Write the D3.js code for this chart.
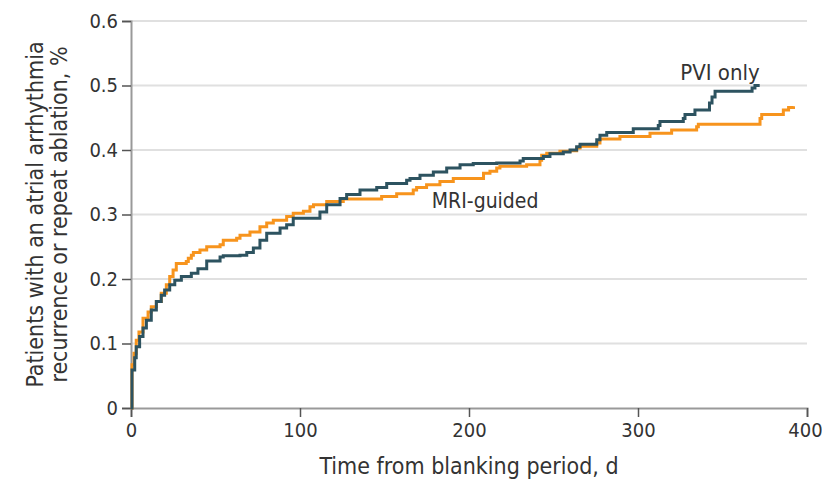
<!DOCTYPE html>
<html>
<head>
<meta charset="utf-8">
<script src="https://cdn.jsdelivr.net/npm/d3@7"></script>
<style>
  html, body { margin: 0; padding: 0; background: #fff; }
  svg { display: block; }
</style>
</head>
<body>
<div id="chart"></div>
<script>
// Kaplan-Meier style cumulative incidence (day, proportion)
const pviDays = [0, 0.6, 2.2, 3.1, 5.1, 7.1, 9.1, 12, 15, 17.9, 19.9, 22.9, 25.9, 29.8, 35.7, 39.6, 44.8,
  52.7, 54.6, 64.5, 68.5, 72.4, 76.3, 80.3, 88.2, 92.1, 96, 111.8, 115.8, 123.7, 127.6, 135.5, 145.4,
  151.3, 163.1, 165.1, 171, 178.9, 186.8, 194.7, 202.5, 216.4, 230.2, 232.1, 244, 247.9, 255.8, 259.8,
  263.7, 265.7, 275.6, 277.5, 281.5, 297.2, 312, 313, 326.8, 327.8, 333.7, 342.3, 343.8, 345.6, 367.5,
  369.2, 372];
const pviRisk = [0, 0.059, 0.078, 0.095, 0.111, 0.124, 0.136, 0.152, 0.165, 0.175, 0.183, 0.191, 0.198,
  0.204, 0.209, 0.216, 0.228, 0.234, 0.236, 0.237, 0.241, 0.248, 0.26, 0.271, 0.279, 0.284, 0.294, 0.304,
  0.315, 0.325, 0.331, 0.338, 0.342, 0.348, 0.353, 0.356, 0.361, 0.366, 0.372, 0.377, 0.379, 0.38, 0.383,
  0.387, 0.39, 0.394, 0.397, 0.4, 0.405, 0.409, 0.416, 0.423, 0.427, 0.433, 0.438, 0.444, 0.449, 0.455,
  0.462, 0.473, 0.482, 0.491, 0.496, 0.5, 0.5];

const mriDays = [0, 0.6, 1.8, 3.1, 4.7, 7.1, 10.1, 12, 15, 17.9, 20.9, 22.9, 24.9, 26.8, 32.7, 33.9, 35.7,
  36.9, 40.8, 44.8, 52.7, 54.6, 62.5, 64.5, 70.4, 76.3, 80.3, 84.2, 92.1, 96, 102, 105.9, 108, 115.8,
  125.6, 148.3, 157.2, 167, 169, 174.9, 182.8, 190.7, 208.6, 212.4, 216.4, 218.3, 234.1, 242, 243, 246,
  253.8, 259.8, 263.7, 265.7, 275.6, 277.5, 289.3, 307.1, 319.9, 334.7, 335.7, 372.2, 373.2, 386, 389.1,
  392];
const mriRisk = [0, 0.067, 0.085, 0.105, 0.118, 0.139, 0.149, 0.157, 0.165, 0.178, 0.191, 0.204, 0.214,
  0.224, 0.227, 0.232, 0.237, 0.241, 0.245, 0.25, 0.253, 0.26, 0.263, 0.268, 0.273, 0.281, 0.287, 0.291,
  0.297, 0.302, 0.305, 0.312, 0.315, 0.32, 0.324, 0.328, 0.332, 0.338, 0.342, 0.346, 0.351, 0.356, 0.364,
  0.367, 0.372, 0.375, 0.377, 0.384, 0.392, 0.395, 0.398, 0.399, 0.403, 0.406, 0.411, 0.417, 0.421, 0.426,
  0.431, 0.436, 0.44, 0.449, 0.455, 0.462, 0.466, 0.468];

const xTicks = [0, 100, 200, 300, 400];
const yTicks = [0, 0.1, 0.2, 0.3, 0.4, 0.5, 0.6];

const seriesNames = ["PVI only", "MRI-guided"];
const seriesColors = ["#2d5360", "#f7941d"];

const width = 822, height = 482;
const margin = { top: 21, right: 15, bottom: 74, left: 131 };
const fontFamily = '"Liberation Sans Narrow", "DejaVu Sans Condensed", sans-serif';
const textColor = "#333333";

const x = d3.scaleLinear().domain([0, 400]).range([margin.left, width - margin.right]);
const y = d3.scaleLinear().domain([0, 0.6]).range([height - margin.bottom, margin.top]);

const svg = d3.select("#chart")
  .append("svg")
  .attr("width", width)
  .attr("height", height)
  .style("font-family", fontFamily);

// gridlines
svg.append("g")
  .selectAll("line")
  .data(yTicks.filter((d) => d > 0))
  .join("line")
  .attr("x1", x(0))
  .attr("x2", x(400))
  .attr("y1", (d) => y(d))
  .attr("y2", (d) => y(d))
  .attr("stroke", "#e0e0e0")
  .attr("stroke-width", 2);

// axes
const xAxis = svg.append("g")
  .attr("transform", `translate(0, ${y(0)})`)
  .call(d3.axisBottom(x).tickValues(xTicks).tickSize(9).tickPadding(6).tickFormat(d3.format("d")));

const yAxis = svg.append("g")
  .attr("transform", `translate(${x(0)}, 0)`)
  .call(d3.axisLeft(y).tickValues(yTicks).tickSize(9).tickPadding(4)
    .tickFormat((d) => (d === 0 ? "0" : d3.format(".1f")(d))));

for (const g of [xAxis, yAxis]) {
  g.select(".domain").attr("stroke", "#999999").attr("stroke-width", 2);
  g.selectAll(".tick line").attr("stroke", "#555555").attr("stroke-width", 1.5);
  g.selectAll(".tick text")
    .attr("fill", textColor)
    .style("font-family", fontFamily)
    .style("font-size", "20px");
}
// keep the last x label inside the frame
xAxis.selectAll(".tick text").filter((d) => d === 400).attr("dx", -2);

// step curves
const line = d3.line()
  .x((d) => x(d[0]))
  .y((d) => y(d[1]))
  .curve(d3.curveStepAfter);

const series = [
  { name: seriesNames[0], color: seriesColors[0], pts: d3.zip(pviDays, pviRisk) },
  { name: seriesNames[1], color: seriesColors[1], pts: d3.zip(mriDays, mriRisk) },
];

// draw orange first, dark on top
for (const s of series.slice().reverse()) {
  svg.append("path")
    .datum(s.pts)
    .attr("fill", "none")
    .attr("stroke", s.color)
    .attr("stroke-width", 3)
    .attr("d", line);
}

// direct labels
svg.append("text")
  .attr("x", x(372))
  .attr("y", y(0.5) - 6)
  .attr("text-anchor", "end")
  .attr("fill", textColor)
  .style("font-size", "22px")
  .text(seriesNames[0]);

svg.append("text")
  .attr("x", x(178))
  .attr("y", y(0.3) - 7)
  .attr("text-anchor", "start")
  .attr("fill", textColor)
  .style("font-size", "21px")
  .text(seriesNames[1]);

// axis titles
svg.append("text")
  .attr("x", (x(0) + x(400)) / 2)
  .attr("y", 474)
  .attr("text-anchor", "middle")
  .attr("fill", textColor)
  .style("font-size", "23px")
  .text("Time from blanking period, d");

const yTitle = svg.append("text")
  .attr("transform", `translate(0, ${(y(0) + y(0.6)) / 2}) rotate(-90)`)
  .attr("text-anchor", "middle")
  .attr("fill", textColor)
  .style("font-size", "23px");

yTitle.append("tspan").attr("x", 0).attr("y", 43).text("Patients with an atrial arrhythmia");
yTitle.append("tspan").attr("x", 0).attr("y", 67).text("recurrence or repeat ablation, %");
</script>
</body>
</html>
